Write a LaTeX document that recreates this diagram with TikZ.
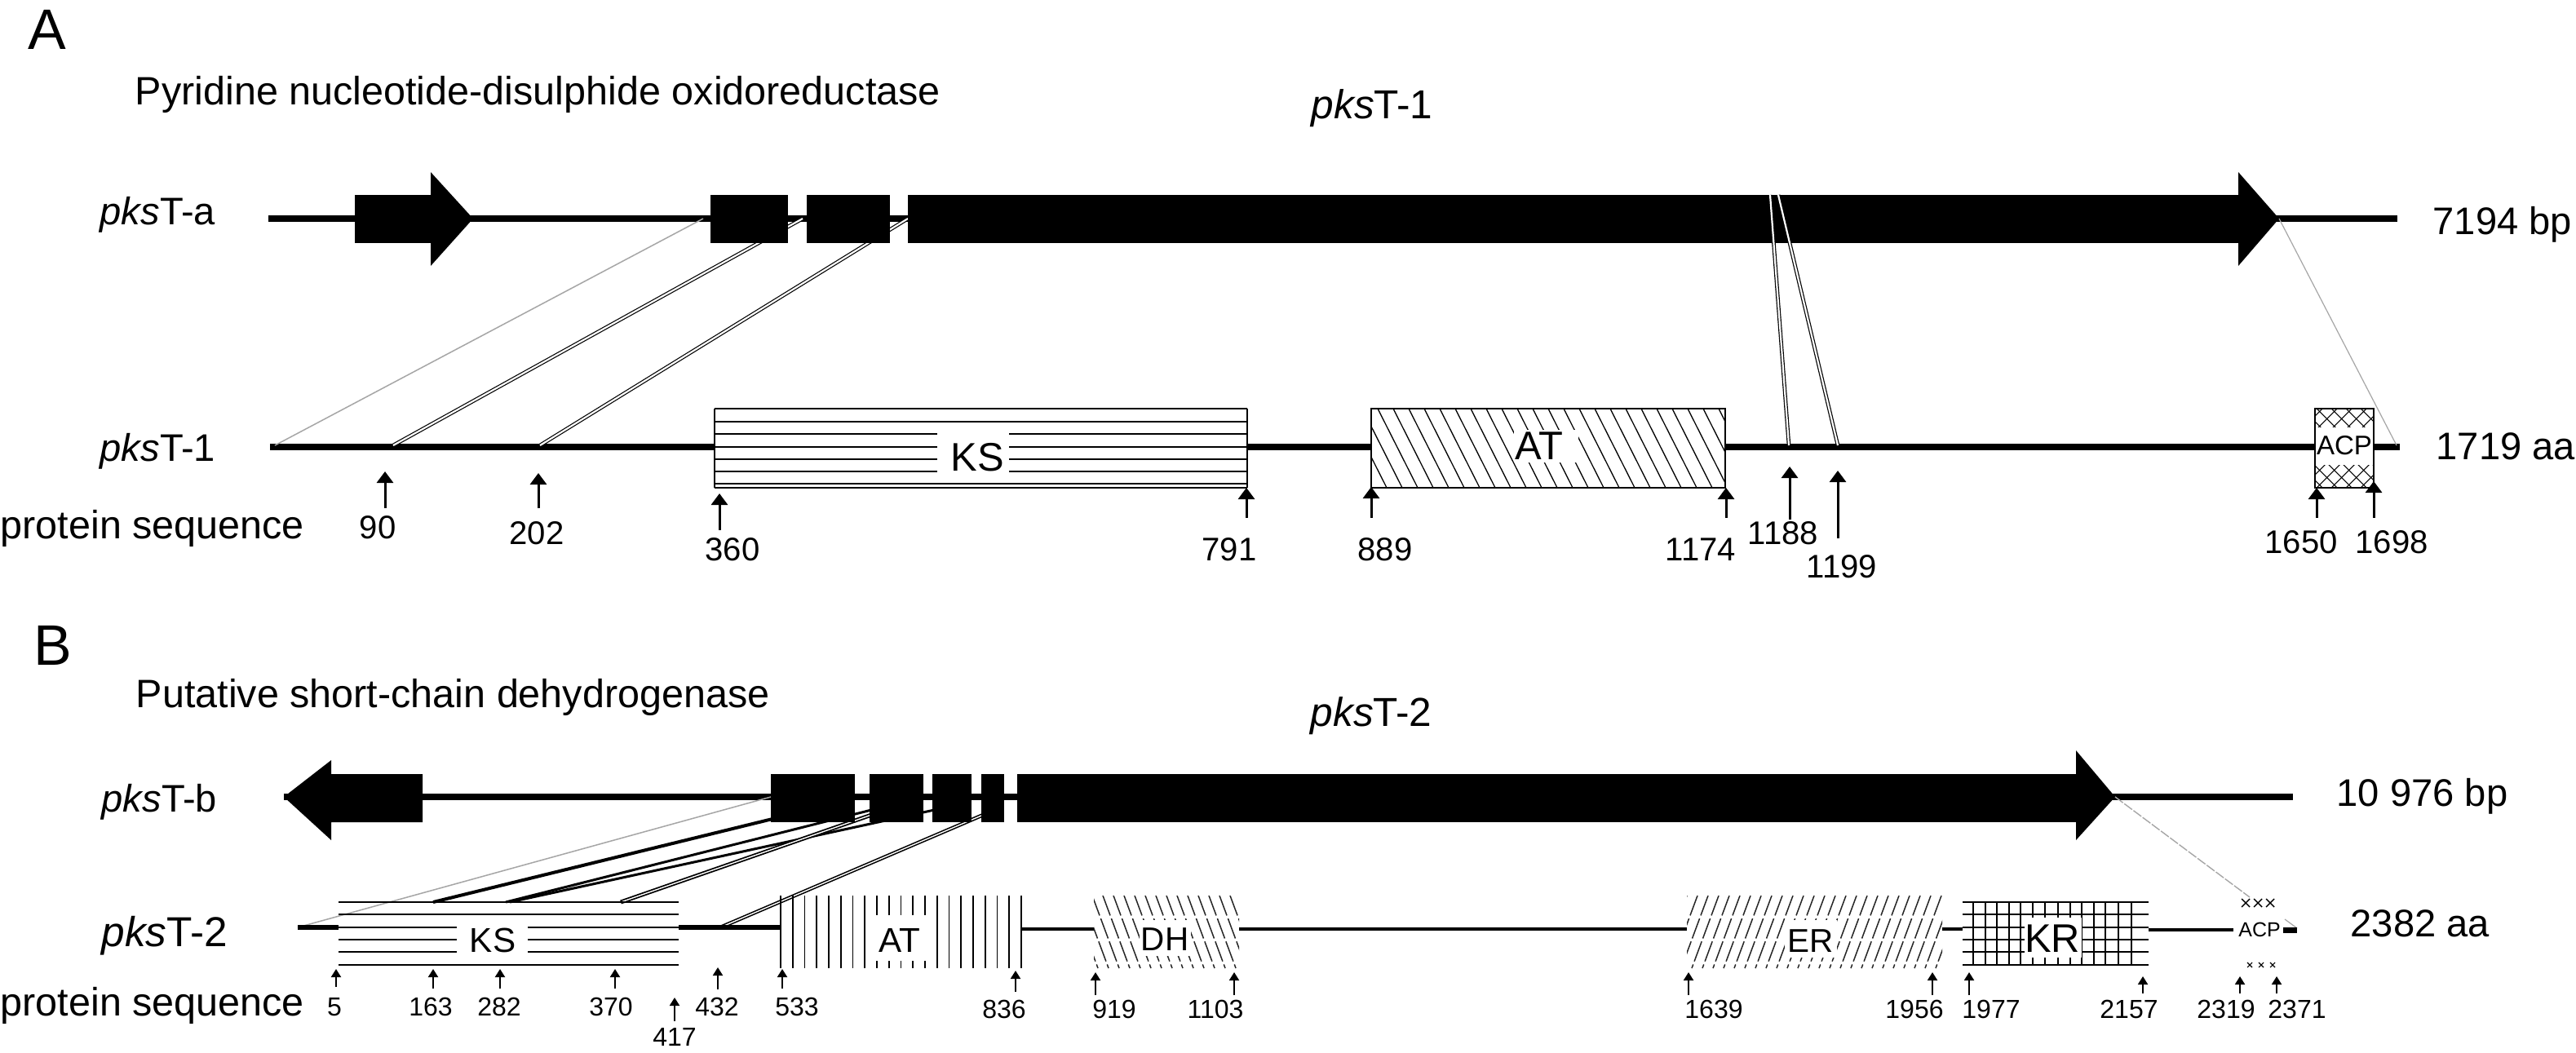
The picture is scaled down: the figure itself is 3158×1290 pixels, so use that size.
\documentclass[tikz,border=0pt]{standalone}
\usepackage{fontspec}
\setmainfont{Liberation Sans}
\usetikzlibrary{arrows.meta}
\newlength\pxu
\setlength\pxu{0.01cm}
\newcommand\setfs[1]{\fontsize{#1}{#1}\selectfont}
\begin{document}
\begin{tikzpicture}[x=0.01cm,y=-0.01cm,
  txt/.style={inner sep=0pt,anchor=base west,font=\setfs{13.4pt}},
  desc/.style={inner sep=0pt,anchor=base west,font=\setfs{13.8pt}},
  panel/.style={inner sep=0pt,anchor=base west,font=\setfs{19.9pt}},
  dom/.style={inner sep=0pt,anchor=base},
  numA/.style={inner sep=0pt,anchor=base,font=\setfs{11.4pt}},
  numB/.style={inner sep=0pt,anchor=base,font=\setfs{9.1pt}},
  arrA/.style={line width=3\pxu,-{Triangle[width=0.2cm,length=0.14cm]}},
  arrB/.style={line width=2\pxu,-{Triangle[width=0.12cm,length=0.1cm]}},
  gene/.style={line width=8\pxu},
  dbl/.style={draw=black,line width=1.2\pxu,double=white,double distance=2.2\pxu},
  faint/.style={draw=black!35,line width=1.5\pxu},
  hatch/.style={line width=1.4\pxu},
  dhatch/.style={line width=1.5\pxu,draw=black!85,dash pattern=on 26\pxu off 4\pxu},
]
\fill[white] (0,0) rectangle (3158,1290);
\useasboundingbox (0,0) rectangle (3158,1290);

%================ PANEL A =================
\node[panel] (lA) at (34,60) {A};
\node[desc] (pyr) at (165,128) {Pyridine nucleotide-disulphide oxidoreductase};
\node[txt,font=\setfs{14.1pt}] (tit1) at (1607,145) {{\itshape pks}T-1};
\node[txt] (pta) at (122,275) {{\itshape pks}T-a};
\node[txt] (bp1) at (2982,287) {7194 bp};
\node[txt] (pt1) at (122,565) {{\itshape pks}T-1};
\node[txt] (aa1) at (2986,563) {1719 aa};
\node[desc] (psA) at (0,660) {protein sequence};

% gene line
\coordinate (gaL) at (329,268); \coordinate (gaR) at (2939,268);
\draw[gene] (gaL) -- (gaR);
% protein line
\coordinate (paL) at (331,548); \coordinate (paR) at (2942,548);
\draw[line width=8\pxu] (paL) -- (paR);

% connectors hidden behind exons
\coordinate (ca1) at (862,268);  \coordinate (pa1) at (337,546);
\coordinate (ca2) at (984,268);  \coordinate (pa2) at (482,546);
\coordinate (ca3) at (1113,268); \coordinate (pa3) at (662,546);
\draw[faint] (ca1) -- (pa1);
\draw[dbl] (ca2) -- (pa2);
\draw[dbl] (ca3) -- (pa3);

% exons
\fill (435,239) rectangle (528,298);
\fill (528,211) -- (580,268) -- (528,326) -- cycle;
\fill (871,239) rectangle (966,298);
\fill (989,239) rectangle (1091,298);
\fill (1113,239) rectangle (2744,298);
\fill (2744,211) -- (2794,268) -- (2744,326) -- cycle;

% connectors on top
\coordinate (ca4) at (2170,239); \coordinate (pa4) at (2193,546);
\coordinate (ca5) at (2180,239); \coordinate (pa5) at (2253,546);
\coordinate (ca6) at (2794,268); \coordinate (pa6) at (2938,546);
\draw[dbl] (ca4) -- (pa4);
\draw[dbl] (ca5) -- (pa5);
\draw[faint,line width=1.2\pxu] (ca6) -- (pa6);

% KS domain
\fill[white] (876,501) rectangle (1529,598);
\foreach \y in {501,517,532,548,563,578,593,598}
  \draw[line width=2\pxu] (876,\y) -- (1529,\y);
\draw[line width=1.5\pxu] (876,501) -- (876,598) (1529,501) -- (1529,598);
\fill[white] (1149,525) rectangle (1237,585);
\node[dom,font=\setfs{13.9pt}] (ksA) at (1198,577) {KS};

% AT domain
\fill[white] (1681,501) rectangle (2115,598);
\begin{scope}
  \clip (1681,501) rectangle (2115,598);
  \foreach \x in {1632,1651,...,2120}
    \draw[hatch,line width=1.3\pxu] (\x,501) -- ++(49,97);
\end{scope}
\draw[line width=1.5\pxu] (1681,501) rectangle (2115,598);
\fill[white] (1856,527) rectangle (1935,567);
\node[dom,font=\setfs{13.9pt}] (atA) at (1887,563) {AT};

% ACP domain
\fill[white] (2838,501) rectangle (2910,598);
\begin{scope}
  \clip (2838,501) rectangle (2910,598);
  \foreach \x in {2750,2768,...,2930}{
    \draw[line width=1.1\pxu] (\x,501) -- ++(97,97);
    \draw[line width=1.1\pxu] (\x,598) -- ++(97,-97);}
\end{scope}
\fill[white] (2838,524) rectangle (2910,570);
\draw[line width=1.5\pxu] (2838,501) rectangle (2910,598);
\node[dom,font=\setfs{9.4pt}] (acpA) at (2874,557) {ACP};

% position arrows A
\foreach \n/\x/\tip/\tail in {90/472/578/623, 202/660/580/623, 360/882/605/650,
   791/1528/598/635, 889/1681/597/635, 1174/2116/598/635, 1188/2194/572/637,
   1199/2253/577/660, 1650/2840/598/635, 1698/2910/590/635}{
  \coordinate (at\n) at (\x,\tail); \coordinate (ah\n) at (\x,\tip);
  \draw[arrA] (at\n) -- (ah\n);}
\foreach \n/\x/\b in {90/463/660, 202/658/667, 360/898/687, 791/1507/687,
   889/1698/687, 1174/2085/687, 1188/2186/667, 1199/2258/708, 1650/2821/678, 1698/2932/678}
  \node[numA] (la\n) at (\x,\b) {\n};

%================ PANEL B =================
\node[panel] (lB) at (41,815) {B};
\node[desc] (psd) at (166,867) {Putative short-chain dehydrogenase};
\node[txt,font=\setfs{14.1pt}] (tit2) at (1606,890) {{\itshape pks}T-2};
\node[txt] (ptb) at (124,995) {{\itshape pks}T-b};
\node[txt] (bp2) at (2864,988) {10 976 bp};
\node[txt,font=\setfs{14.6pt}] (pt2) at (124,1160) {{\itshape pks}T-2};
\node[txt] (aa2) at (2881,1148) {2382 aa};
\node[desc] (psB) at (0,1245) {protein sequence};

% gene line B
\coordinate (gbL) at (348,977); \coordinate (gbR) at (2811,977);
\draw[line width=8\pxu] (gbL) -- (gbR);

% connectors B (behind exons)
\coordinate (cb0) at (945,977);  \coordinate (pb0) at (365,1137);
\coordinate (cb1) at (1000,991); \coordinate (pb1) at (531,1106);
\coordinate (cb2) at (1100,985); \coordinate (pb2) at (620,1106);
\coordinate (cb3) at (1150,992); \coordinate (pb3) at (625,1106);
\coordinate (cb4) at (1100,988); \coordinate (pb4) at (761,1106);
\coordinate (cb5) at (1210,997); \coordinate (pb5) at (883,1137);
\draw[faint] (cb0) -- (pb0);
\draw[line width=4\pxu] (cb1) -- (pb1);
\draw[line width=3\pxu] (cb2) -- (pb2);
\draw[line width=3\pxu] (cb3) -- (pb3);
\draw[dbl,line width=1.8\pxu,double distance=1.4\pxu] (cb4) -- (pb4);
\draw[dbl,line width=1.6\pxu,double distance=1.4\pxu] (cb5) -- (pb5);

% exons B
\fill (348,977) -- (406,932) -- (406,949) -- (518,949) -- (518,1008) -- (406,1008) -- (406,1030) -- cycle;
\fill (945,949) rectangle (1048,1008);
\fill (1066,949) rectangle (1132,1008);
\fill (1143,949) rectangle (1191,1008);
\fill (1203,949) rectangle (1231,1008);
\fill (1247,949) rectangle (2545,1008);
\fill (2545,920) -- (2593,977) -- (2545,1030) -- cycle;

\coordinate (cb6) at (2593,977); \coordinate (pb6) at (2758,1100);
\draw[faint,line width=1.4\pxu,dash pattern=on 12\pxu off 2\pxu] (cb6) -- (pb6);
\coordinate (cb7) at (2801,1127); \coordinate (pb7) at (2816,1138);
\draw[faint,line width=1.2\pxu] (cb7) -- (pb7);

% protein line B segments
\draw[line width=6\pxu] (365,1137) -- (415,1137);
\draw[line width=6\pxu] (832,1137) -- (958,1137);
\draw[line width=3.5\pxu] (1252,1139) -- (1341,1139);
\draw[line width=3.5\pxu] (1519,1139) -- (2068,1139);
\draw[line width=3.5\pxu] (2381,1139) -- (2406,1139);
\draw[line width=3.5\pxu] (2634,1140) -- (2738,1140);
\draw[line width=7\pxu] (2799,1140) -- (2816,1140);

% KS B
\foreach \y in {1106,1121,1137,1152,1167,1183}
  \draw[line width=2.6\pxu] (415,\y) -- (832,\y);
\fill[white] (560,1128) rectangle (647,1175);
\node[dom,font=\setfs{12pt}] (ksB) at (604,1167) {KS};

% AT B
\foreach \k in {0,...,20}
  \draw[line width=1.7\pxu] ({957+14.75*\k},1098) -- ++(0,89);
\fill[white] (1069,1122) rectangle (1136,1178);
\node[dom,font=\setfs{12pt}] (atB) at (1103,1167) {AT};

% DH B
\begin{scope}
  \clip (1341,1098) rectangle (1519,1187);
  \foreach \x in {1300,1313,...,1530}
    \draw[dhatch] (\x,1098) -- ++(33,89);
\end{scope}
\fill[white] (1397,1128) rectangle (1460,1172);
\node[dom,font=\setfs{11.5pt}] (dhB) at (1428,1165) {DH};

% ER B
\begin{scope}
  \clip (2068,1098) rectangle (2381,1187);
  \foreach \x in {2068,2081,...,2420}
    \draw[dhatch] (\x,1098) -- ++(-33,89);
\end{scope}
\fill[white] (2188,1128) rectangle (2252,1174);
\node[dom,font=\setfs{11.5pt}] (erB) at (2220,1167) {ER};

% KR B
\foreach \y in {1106,1121,1137,1152,1167,1183}
  \draw[line width=2.2\pxu] (2406,\y) -- (2634,\y);
\foreach \x in {2419,2434,2448,2463,2477,2492,2507,2523,2538,2552,2567,2581,2597,2613}
  \draw[line width=2.2\pxu] (\x,1106) -- (\x,1183);
\fill[white] (2482,1125) rectangle (2552,1174);
\node[dom,font=\setfs{13.9pt}] (krB) at (2516,1167) {KR};

% ACP B
\node[dom,font=\setfs{7.1pt}] (acpB) at (2770,1148) {ACP};
\foreach \cx in {2753,2768,2783}
  \draw[line width=1.4\pxu] (\cx-5,1102) -- (\cx+5,1112) (\cx-5,1112) -- (\cx+5,1102);
\foreach \cx in {2758,2772,2786}
  \draw[line width=1.1\pxu] (\cx-3,1180) -- (\cx+3,1186) (\cx-3,1186) -- (\cx+3,1180);

% position arrows B
\foreach \n/\x/\tip/\tail in {5/412/1188/1210, 163/531/1188/1212, 282/613/1188/1212,
   370/754/1188/1212, 417/827/1223/1252, 432/880/1186/1213, 533/959/1188/1212,
   836/1245/1190/1216, 919/1343/1192/1220, 1103/1513/1192/1220, 1639/2070/1192/1220,
   1956/2369/1192/1220, 1977/2414/1192/1220, 2157/2627/1197/1218,
   2319/2746/1197/1218, 2371/2791/1197/1218}{
  \coordinate (bt\n) at (\x,\tail); \coordinate (bh\n) at (\x,\tip);
  \draw[arrB] (bt\n) -- (bh\n);}
\foreach \n/\x/\b in {5/410/1245, 163/528/1245, 282/612/1245, 370/749/1245,
   417/827/1282, 432/879/1245, 533/977/1245, 836/1231/1248, 919/1366/1248,
   1103/1490/1248, 1639/2101/1248, 1956/2347/1248, 1977/2441/1248,
   2157/2610/1248, 2319/2729/1248, 2371/2816/1248}
  \node[numB] (lb\n) at (\x,\b) {\n};
\end{tikzpicture}
\end{document}
